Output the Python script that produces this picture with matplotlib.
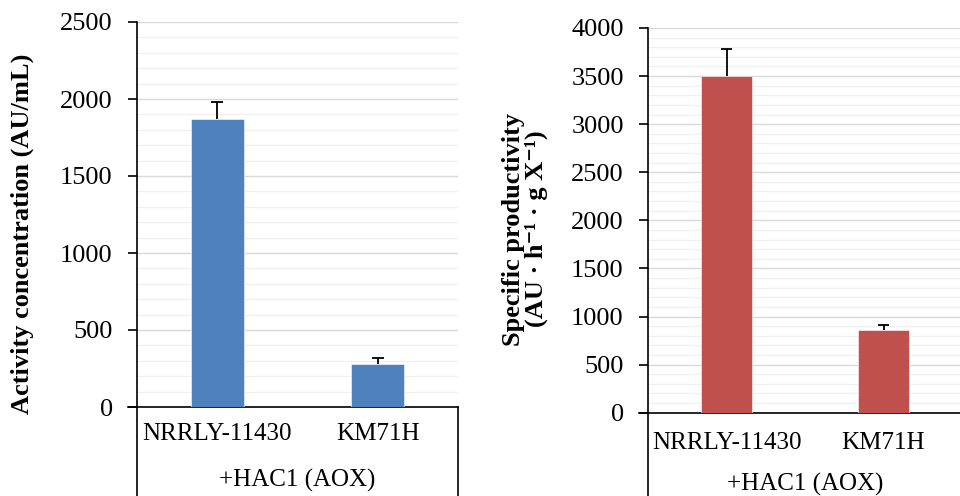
import matplotlib.pyplot as plt
from matplotlib.lines import Line2D
from matplotlib.ticker import MultipleLocator

strains = ["NRRLY-11430", "KM71H"]
group_label = "+HAC1 (AOX)"

activity = [1870, 277]
activity_err = [110, 43]

productivity = [3500, 860]
productivity_err = [285, 52]

BLUE = "#4f81bd"
RED = "#c0504d"

plt.rcParams["font.family"] = ["Liberation Serif", "DejaVu Serif"]
plt.rcParams["font.size"] = 19

W, H = 960, 496
fig = plt.figure(figsize=(W / 100, H / 100), dpi=100)
ax1 = fig.add_axes([137 / W, 1 - 407 / H, 321 / W, 385 / H])
ax2 = fig.add_axes([648 / W, 1 - 412.7 / H, 314 / W, 384.7 / H])


def draw_panel(ax, values, errors, color, ymax, cat_y, group_y):
    xs = list(range(len(values)))
    ax.bar(xs, values, width=0.33, color=color, edgecolor="#ffffff",
           linewidth=0.4, zorder=3)
    # upper error bars only
    tops = [v + e for v, e in zip(values, errors)]
    ax.vlines(xs, values, tops, color="black", linewidth=1.3, zorder=4)
    ax.hlines(tops, [x - 0.037 for x in xs], [x + 0.037 for x in xs],
              color="black", linewidth=1.3, zorder=4)
    ax.set_xlim(-0.5, len(values) - 0.5)
    ax.set_ylim(0, ymax)
    ax.yaxis.set_major_locator(MultipleLocator(500))
    ax.yaxis.set_minor_locator(MultipleLocator(100))
    ax.grid(which="major", axis="y", color="#d9d9d9", linewidth=1.0, zorder=0)
    ax.grid(which="minor", axis="y", color="#f0f0f0", linewidth=1.0, zorder=0)
    ax.tick_params(axis="y", which="major", length=6.5, width=1.2, pad=11)
    ax.tick_params(axis="y", which="minor", length=0)
    ax.set_xticks([])
    for side in ("top", "right"):
        ax.spines[side].set_visible(False)
    ax.spines["left"].set_linewidth(1.2)
    ax.spines["bottom"].set_linewidth(1.2)

    # category table under the x axis
    for i, name in enumerate(strains):
        ax.text(i, cat_y, name, transform=ax.get_xaxis_transform(),
                ha="center", va="center", fontsize=18)
    ax.text(0.5, group_y, group_label, transform=ax.transAxes,
            ha="center", va="center", fontsize=18)
    for x in (0, 1):
        ax.add_line(Line2D([x, x], [0, -0.3], transform=ax.transAxes,
                           color="black", linewidth=1.2, clip_on=False))
    ax.add_line(Line2D([-0.028, 0], [0, 0], transform=ax.transAxes,
                       color="black", linewidth=1.2, clip_on=False))


draw_panel(ax1, activity, activity_err, BLUE, 2500, -0.070, -0.19)
draw_panel(ax2, productivity, productivity_err, RED, 4000, -0.078, -0.187)

fig.text(22 / W, 1 - 234 / H, "Activity concentration (AU/mL)",
         rotation=90, ha="center", va="center", fontweight="bold", fontsize=19)
fig.text(525 / W, 1 - 229 / H, "Specific productivity\n(AU · h⁻¹ · g X⁻¹)",
         rotation=90, ha="center", va="center", fontweight="bold", fontsize=19,
         linespacing=0.95, multialignment="center")

fig.savefig("out.png", dpi=100)
